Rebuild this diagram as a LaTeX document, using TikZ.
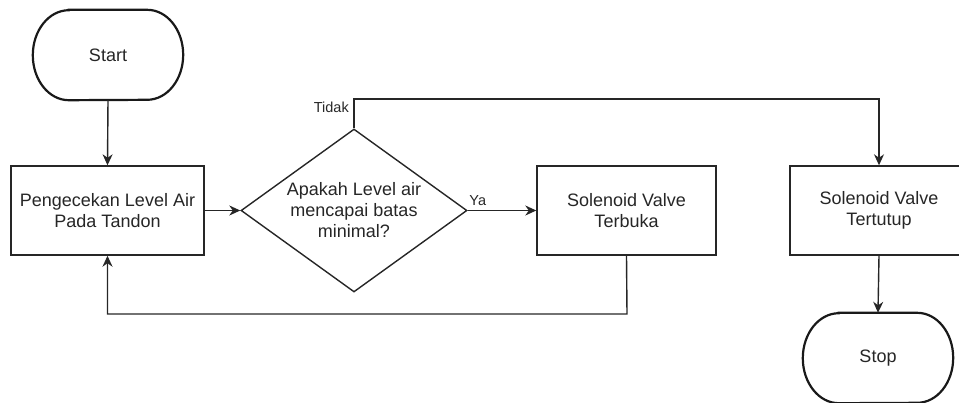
\documentclass[tikz,border=0pt]{standalone}
\usepackage{fontspec}
\setmainfont{Liberation Sans}
\usetikzlibrary{shapes.geometric,arrows.meta,calc}

\begin{document}
\begin{tikzpicture}[x=1pt,y=-1pt,
  txt/.style={text=black!85, font=\fontsize{18pt}{21pt}\selectfont, align=center},
  procbox/.style={txt, draw=black!85, line width=1.4pt, inner sep=0pt},
  termnode/.style={txt, minimum width=150pt, minimum height=90pt, inner sep=0pt},
  termline/.style={draw=black!90, line width=2.2pt},
  decision/.style={txt, draw=black!85, line width=1.4pt, shape=diamond, aspect=1.387,
    inner sep=0pt, minimum width=226pt, minimum height=163pt},
  flow/.style={draw=black!85, line width=1.4pt, -{Stealth[length=11pt,width=10pt,inset=3.5pt]}},
  lbl/.style={text=black!85, font=\fontsize{14.5pt}{17pt}\selectfont, inner sep=0pt}
]
\useasboundingbox (0,0) rectangle (959,402);

% terminators (outline drawn separately with elliptical ends)
\node[termnode] (start) at (108,55) {Start};
\node[termnode] (stop) at (878,358) {Stop};
\foreach \t in {start,stop}{
  \draw[termline] ($(\t.north west)+(36pt,0)$) -- ($(\t.north east)+(-36pt,0)$)
    arc[start angle=90,end angle=-90,x radius=36pt,y radius=45pt]
    -- ($(\t.south west)+(36pt,0)$)
    arc[start angle=270,end angle=90,x radius=36pt,y radius=45pt] -- cycle;
}

% process steps
\node[procbox, minimum width=193pt, minimum height=89pt] (check) at (107.5,210.5)
  {Pengecekan Level Air\\Pada Tandon};
\node[decision] (dec) at (354,210.5) {Apakah Level air\\mencapai batas\\minimal?};
\node[procbox, minimum width=179pt, minimum height=89pt] (open) at (626.5,210.5)
  {Solenoid Valve\\Terbuka};
\node[procbox, minimum width=178pt, minimum height=89pt] (close) at (879,210.5)
  {Solenoid Valve\\Tertutup};

% helper points for the bends
\coordinate (tidakbend) at (354,99);
\coordinate (loopbend) at (627,314);

% connectors
\draw[flow] (start.south) -- (check.north);
\draw[flow] (check.east) -- (dec.west);
\draw[flow] (dec.east) -- (open.west)
  node[lbl, pos=0, anchor=south west, xshift=1pt, yshift=4pt] (ya) {Ya};
\draw[flow] (dec.north) -- (tidakbend) -| (close.north);
\node[lbl, anchor=east] (tidak) at ($(dec.north)+(-5,-21)$) {Tidak};
\draw[flow] (open.south) -- (loopbend) -| (check.south);
\draw[flow] (close.south) -- (stop.north);
\end{tikzpicture}
\end{document}
